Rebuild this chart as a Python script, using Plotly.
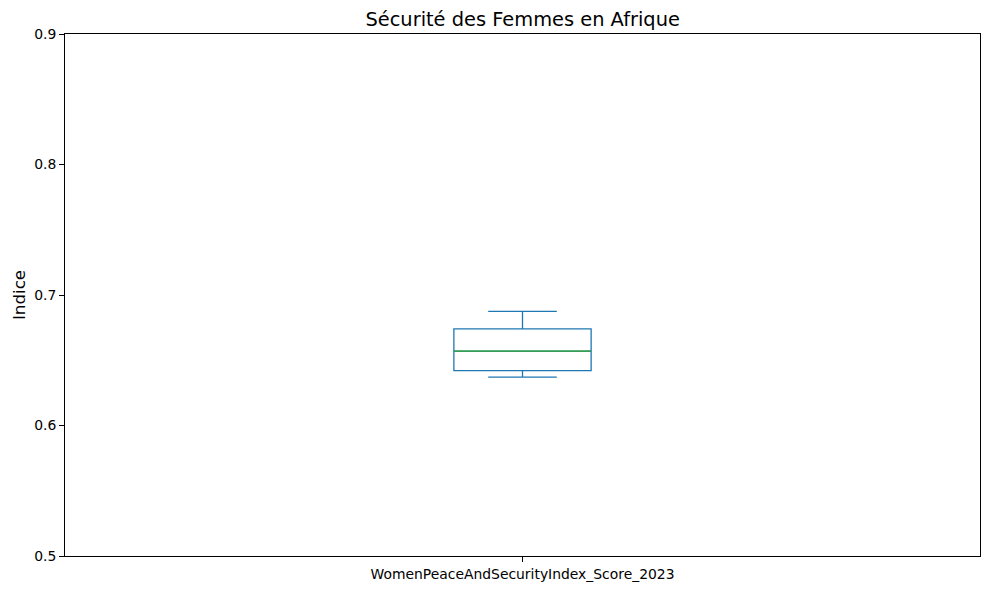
import plotly.graph_objects as go

# Data
category = ["WomenPeaceAndSecurityIndex_Score_2023"]
positions = [1]
lower_whisker = [0.637]
q1 = [0.642]
median = [0.657]
q3 = [0.674]
upper_whisker = [0.6875]

box_width = 0.15
y_ticks = [0.5, 0.6, 0.7, 0.8, 0.9]

BLUE = "#1f77b4"
GREEN = "#2ca02c"
FONT = "DejaVu Sans"

fig = go.Figure()
fig.add_trace(go.Box(
    x=positions,
    q1=q1, median=median, q3=q3,
    lowerfence=lower_whisker, upperfence=upper_whisker,
    width=box_width,
    whiskerwidth=0.5,
    line=dict(color=BLUE, width=1.3),
    fillcolor="rgba(0,0,0,0)",
    boxpoints=False,
    showlegend=False,
    hoverinfo="skip",
))
# green median line (matplotlib style)
for p, m in zip(positions, median):
    fig.add_trace(go.Scatter(
        x=[p - box_width / 2, p + box_width / 2], y=[m, m],
        mode="lines", line=dict(color=GREEN, width=1.3),
        showlegend=False, hoverinfo="skip",
    ))

fig.update_layout(
    width=989, height=590,
    margin=dict(l=65, r=9, t=34, b=34),
    paper_bgcolor="white", plot_bgcolor="white",
    font=dict(family=FONT, size=13.9, color="black"),
    title=dict(text="Sécurité des Femmes en Afrique", x=0.5285, xanchor="center",
               y=0.967, yanchor="middle", font=dict(family=FONT, size=19.4, color="black")),
    showlegend=False,
)
fig.update_xaxes(
    range=[0.5, 1.5], tickvals=positions, ticktext=category,
    showgrid=False, zeroline=False,
    showline=True, linecolor="black", linewidth=1, mirror=True,
    ticks="outside", ticklen=5, tickcolor="black", tickwidth=1,
    tickfont=dict(family=FONT, size=13.9, color="black"),
)
fig.update_yaxes(
    range=[0.5, 0.9], tickvals=y_ticks, ticktext=[f"{v:.1f}" for v in y_ticks],
    showgrid=False, zeroline=False,
    showline=True, linecolor="black", linewidth=1, mirror=True,
    ticks="outside", ticklen=5, tickcolor="black", tickwidth=1,
    tickfont=dict(family=FONT, size=13.9, color="black"),
    title=dict(text="Indice", font=dict(family=FONT, size=16.7, color="black"), standoff=4),
)

fig.write_html("out.html")
